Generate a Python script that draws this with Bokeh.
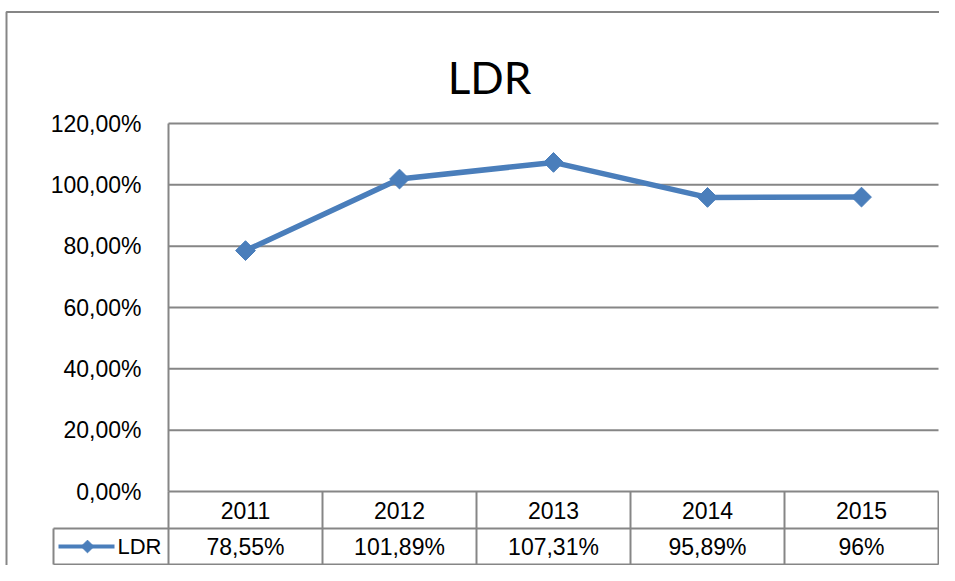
import math
from bokeh.plotting import figure
from bokeh.models import Range1d
from bokeh.core.properties import value
from bokeh.embed import file_html
from bokeh.resources import INLINE

# ---- data ----
TITLE = "LDR"
SERIES_NAME = "LDR"
YEARS = ["2011", "2012", "2013", "2014", "2015"]
LDR_VALUES = [78.55, 101.89, 107.31, 95.89, 96.0]
LDR_LABELS = ["78,55%", "101,89%", "107,31%", "95,89%", "96%"]
Y_TICKS = [0, 20, 40, 60, 80, 100, 120]
Y_TICK_LABELS = [f"{t:.2f}".replace(".", ",") + "%" for t in Y_TICKS]

# ---- layout (canvas pixels) ----
W, H = 939, 565
PLOT_L, PLOT_R, PLOT_T, PLOT_B = 168, 938, 123, 491
ROW_SEP, TABLE_BOTTOM = 528, 564
LEG_L = 53
HEADER_CY, VALUE_CY = 510, 546
TICK_LABEL_R = 141
TITLE_CX, TITLE_BASE = 489, 76
BORDER_X, BORDER_Y = 6, 11.5

BLUE = "#4A7EBB"
GRAY = "#868686"
FONT = value("Liberation Sans")

n = len(YEARS)
ymax = max(Y_TICKS)
ppx = (PLOT_R - PLOT_L) / n
ppy = (PLOT_B - PLOT_T) / ymax


def X(px):
    return (px - PLOT_L) / ppx


def Y(py):
    return (PLOT_B - py) / ppy


p = figure(width=W, height=H,
           x_range=Range1d(X(0), X(W)), y_range=Range1d(Y(H), Y(0)),
           output_backend="svg", toolbar_location=None, title=None,
           x_axis_type=None, y_axis_type=None, min_border=0,
           outline_line_color=None, background_fill_color="white",
           border_fill_color="white")

# outer chart border (left and top visible)
p.line([X(BORDER_X), X(BORDER_X), X(W)], [Y(H), Y(BORDER_Y), Y(BORDER_Y)],
       line_color=GRAY, line_width=2)

# gridlines
p.segment(x0=[0] * len(Y_TICKS), x1=[n] * len(Y_TICKS), y0=Y_TICKS, y1=Y_TICKS,
          line_color=GRAY, line_width=2)
# value axis line
p.segment(x0=[0], x1=[0], y0=[0], y1=[ymax], line_color=GRAY, line_width=2)

# data table grid
cols = list(range(n + 1))
p.segment(x0=cols, x1=cols, y0=[Y(TABLE_BOTTOM)] * len(cols), y1=[0] * len(cols),
          line_color=GRAY, line_width=2)
p.segment(x0=[X(LEG_L)] * 2, x1=[n] * 2, y0=[Y(ROW_SEP), Y(TABLE_BOTTOM)],
          y1=[Y(ROW_SEP), Y(TABLE_BOTTOM)], line_color=GRAY, line_width=2)
p.segment(x0=[X(LEG_L)], x1=[X(LEG_L)], y0=[Y(ROW_SEP)], y1=[Y(TABLE_BOTTOM)],
          line_color=GRAY, line_width=2)

# y tick labels
p.text(x=[X(TICK_LABEL_R)] * len(Y_TICKS), y=Y_TICKS, text=Y_TICK_LABELS,
       text_align="right", text_baseline="middle", text_font=FONT,
       text_font_size="23px", text_color="black")

# series
xs = [i + 0.5 for i in range(n)]
p.line(xs, LDR_VALUES, line_color=BLUE, line_width=5.5, line_join="round")
p.scatter(xs, LDR_VALUES, marker="square", angle=math.pi / 4, size=14,
          fill_color=BLUE, line_color=BLUE)

# table text
p.text(x=xs, y=[Y(HEADER_CY)] * n, text=YEARS, text_align="center",
       text_baseline="middle", text_font=FONT, text_font_size="23px", text_color="black")
p.text(x=xs, y=[Y(VALUE_CY)] * n, text=LDR_LABELS, text_align="center",
       text_baseline="middle", text_font=FONT, text_font_size="23px", text_color="black")

# legend key in table
p.line([X(58), X(114)], [Y(VALUE_CY)] * 2, line_color=BLUE, line_width=4)
p.scatter([X(87)], [Y(VALUE_CY)], marker="square", angle=math.pi / 4, size=9,
          fill_color=BLUE, line_color=BLUE)
p.text(x=[X(117)], y=[Y(VALUE_CY)], text=[SERIES_NAME], text_align="left",
       text_baseline="middle", text_font=FONT, text_font_size="22px", text_color="black")

# title
p.text(x=[X(TITLE_CX)], y=[Y(TITLE_BASE)], text=[TITLE], text_align="center",
       text_baseline="alphabetic", text_font=value("Lato"),
       text_font_size="44px", text_color="black")

open("out.html", "w").write(file_html(p, INLINE))
